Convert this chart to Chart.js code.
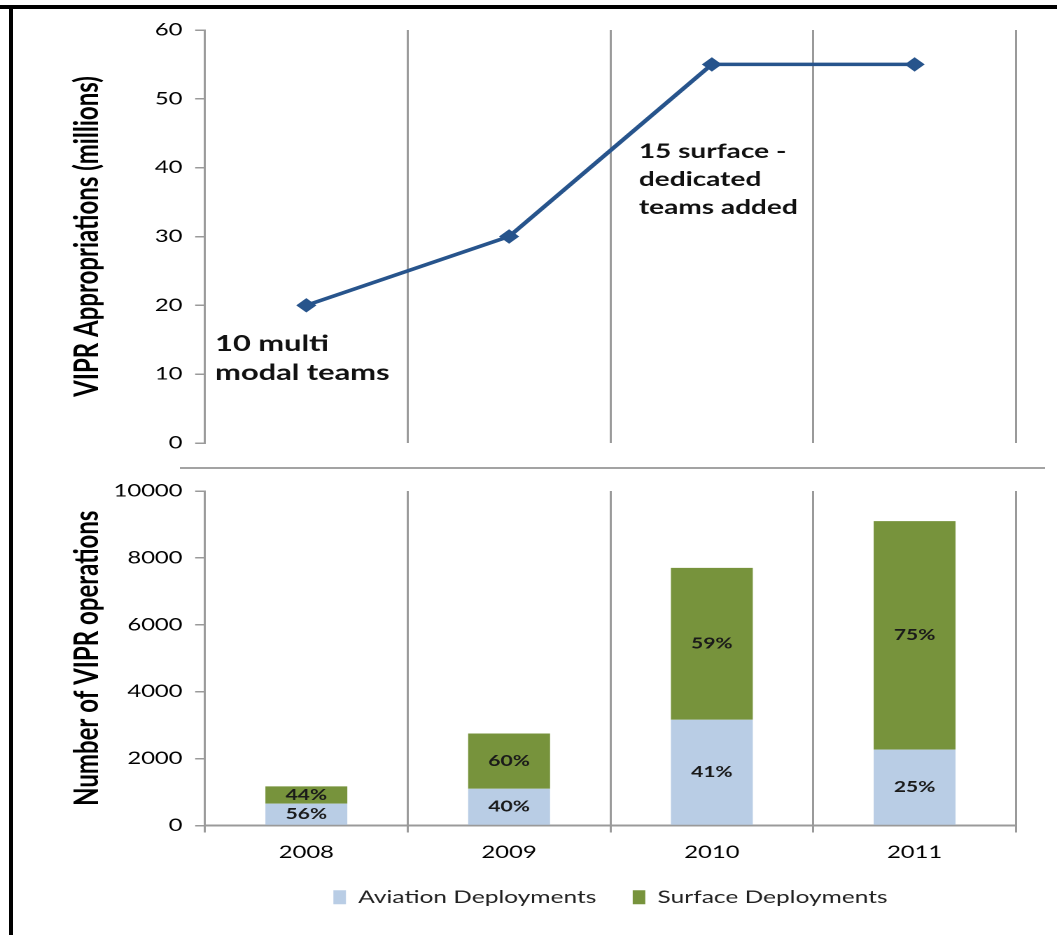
<!DOCTYPE html>
<html lang="en">
<head>
    <meta charset="UTF-8">
    <title>VIPR appropriations and operations</title>
    <script src="https://cdn.jsdelivr.net/npm/chart.js"></script>
    <style>
        body { margin: 0; background: #fff; width: 1057px; height: 935px; overflow: hidden; position: relative; }
        .frame-top { position: absolute; left: 0; top: 5px; width: 1057px; height: 4px; background: #000; }
        .frame-left { position: absolute; left: 9px; top: 5px; width: 4px; height: 930px; background: #000; }
        .divider { position: absolute; left: 180px; top: 467px; width: 865px; height: 2px; background: #a3a3a3; }
        /* the original picture is stretched sideways, so the canvases are too */
        canvas { position: absolute; left: 0; transform: scaleX(1.4); transform-origin: 0 0; }
        #topChart { top: 20px; }
        #bottomChart { top: 475px; }
    </style>
</head>
<body>
    <div class="frame-top"></div>
    <div class="frame-left"></div>
    <div class="divider"></div>
    <canvas id="topChart" width="755" height="435"></canvas>
    <canvas id="bottomChart" width="755" height="441"></canvas>

    <script>
        // Données
        const years = ['2008', '2009', '2010', '2011'];
        const appropriations = [20, 30, 55, 55];          // millions
        const aviationOps = [655, 1100, 3160, 2270];
        const surfaceOps = [515, 1650, 4540, 6830];
        const aviationPct = ['56%', '40%', '41%', '25%'];
        const surfacePct = ['44%', '60%', '59%', '75%'];
        const noteMulti = ['10 multi', 'modal teams'];
        const noteSurface = ['15 surface -', 'dedicated', 'teams added'];

        const gridGray = '#9a9a9a';
        const tickColor = '#000';
        const axisWidth = 146.4;   // 205px / 1.4

        // texte libre posé sur le graphique du haut
        const notesPlugin = {
            id: 'notes',
            afterDraw(chart, args, opts) {
                const { ctx, scales: { x, y } } = chart;
                ctx.save();
                ctx.fillStyle = '#111';
                ctx.textAlign = 'left';
                ctx.textBaseline = 'alphabetic';
                opts.items.forEach(n => {
                    ctx.font = 'bold ' + n.size + 'px Lato';
                    n.lines.forEach((line, i) => {
                        ctx.fillText(line, x.getPixelForValue(n.x), y.getPixelForValue(n.y) + i * n.lead);
                    });
                });
                ctx.restore();
            }
        };

        // pourcentages au milieu de chaque segment
        const pctLabels = [aviationPct, surfacePct];
        const barLabelsPlugin = {
            id: 'barLabels',
            afterDatasetsDraw(chart) {
                const ctx = chart.ctx;
                ctx.save();
                ctx.font = 'bold 15px Lato';
                ctx.fillStyle = '#1a1a1a';
                ctx.textAlign = 'center';
                ctx.textBaseline = 'middle';
                chart.data.datasets.forEach((ds, i) => {
                    chart.getDatasetMeta(i).data.forEach((bar, j) => {
                        const p = bar.getProps(['x', 'y', 'base'], true);
                        ctx.fillText(pctLabels[i][j], p.x, (p.y + p.base) / 2);
                    });
                });
                ctx.restore();
            }
        };

        const yTitle = (text) => ({
            display: true,
            text: text,
            color: '#000',
            font: { family: 'Lato', size: 24, weight: 'bold' },
            padding: { top: 48, bottom: 0 }
        });

        // largeur d'axe fixe, sans marge de débordement des étiquettes
        const fixAxis = s => {
            s.width = axisWidth;
            s.paddingTop = 0;
            s.paddingBottom = 0;
        };

        const yTicks = { color: tickColor, font: { family: 'Lato', size: 17 }, padding: 9 };
        const yGrid = { drawOnChartArea: false, color: gridGray, lineWidth: 1.5, tickLength: 7 };

        new Chart(document.getElementById('topChart'), {
            type: 'line',
            data: {
                labels: years,
                datasets: [{
                    label: 'VIPR Appropriations',
                    data: appropriations,
                    borderColor: '#27548c',
                    backgroundColor: '#27548c',
                    borderWidth: 3.5,
                    pointStyle: 'rectRot',
                    pointRadius: 6.5,
                    pointBorderWidth: 1,
                    tension: 0
                }]
            },
            options: {
                responsive: false,
                devicePixelRatio: 2,
                animation: false,
                layout: { padding: { top: 10, bottom: 12, left: 0, right: 29.3 } },
                plugins: {
                    legend: { display: false },
                    tooltip: { enabled: false },
                    notes: {
                        items: [
                            { lines: noteMulti, x: -0.45, y: 13.4, size: 22, lead: 29 },
                            { lines: noteSurface, x: 1.64, y: 41.4, size: 20, lead: 28 }
                        ]
                    }
                },
                scales: {
                    x: {
                        offset: true,
                        grid: { offset: true, color: gridGray, lineWidth: 1.5, drawTicks: false },
                        border: { display: false },
                        ticks: { display: false },
                        afterFit: s => { s.height = 0; }
                    },
                    y: {
                        min: 0,
                        max: 60,
                        ticks: { ...yTicks, stepSize: 10 },
                        grid: yGrid,
                        border: { color: gridGray, width: 1.5 },
                        title: yTitle('VIPR Appropriations (millions)'),
                        afterFit: fixAxis
                    }
                }
            },
            plugins: [notesPlugin]
        });

        new Chart(document.getElementById('bottomChart'), {
            type: 'bar',
            data: {
                labels: years,
                datasets: [
                    { label: 'Aviation Deployments', data: aviationOps, backgroundColor: '#b9cde5', borderWidth: 0 },
                    { label: 'Surface Deployments', data: surfaceOps, backgroundColor: '#77933c', borderWidth: 0 }
                ]
            },
            options: {
                responsive: false,
                devicePixelRatio: 2,
                animation: false,
                layout: { padding: { top: 16, bottom: 0, left: 0, right: 29.3 } },
                plugins: {
                    tooltip: { enabled: false },
                    legend: {
                        position: 'bottom',
                        fullSize: false,
                        labels: {
                            boxWidth: 9,
                            boxHeight: 14,
                            padding: 26,
                            color: '#222',
                            font: { family: 'Lato', size: 17.5 }
                        }
                    }
                },
                scales: {
                    x: {
                        stacked: true,
                        offset: true,
                        grid: { offset: true, color: gridGray, lineWidth: 1.5, tickLength: 7 },
                        border: { color: gridGray, width: 2 },
                        ticks: { color: tickColor, font: { family: 'Lato', size: 17 }, padding: 10 },
                        afterFit: s => { s.height = 37; }
                    },
                    y: {
                        stacked: true,
                        min: 0,
                        max: 10000,
                        ticks: { ...yTicks, stepSize: 2000, callback: v => String(v) },
                        grid: yGrid,
                        border: { color: gridGray, width: 1.5 },
                        title: yTitle('Number of VIPR operations'),
                        afterFit: fixAxis
                    }
                },
                datasets: { bar: { barPercentage: 0.404, categoryPercentage: 1 } }
            },
            plugins: [barLabelsPlugin]
        });
    </script>
</body>
</html>
